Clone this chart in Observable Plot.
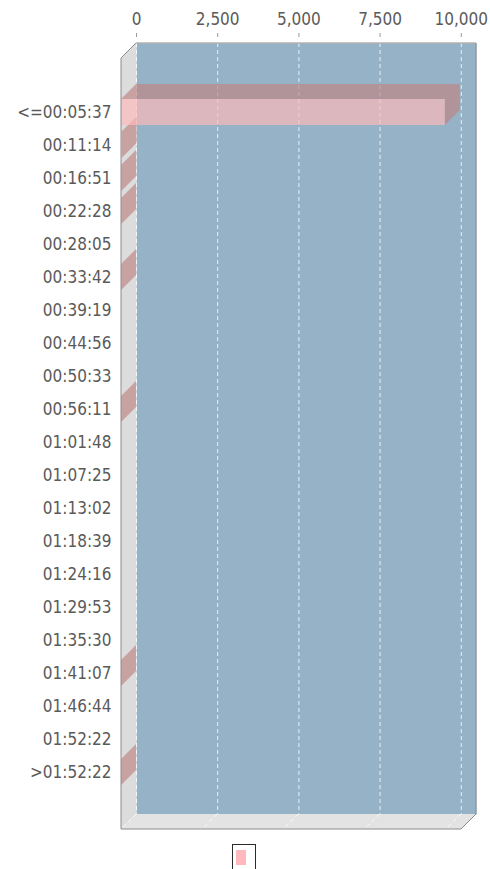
<!DOCTYPE html>
<html>
<head>
<meta charset="utf-8">
<script src="https://cdn.jsdelivr.net/npm/d3@7"></script>
<script src="https://cdn.jsdelivr.net/npm/@observablehq/plot@0.6"></script>
<style>
  body { margin: 0; background: #ffffff; }
  #chart { width: 490px; }
  #chart svg { display: block; }
  .legend-row { position: relative; width: 490px; height: 29px; }
  .legend {
    position: absolute; left: 232px; top: 4px;
    width: 24px; height: 28px; box-sizing: border-box;
    border: 1.5px solid #2a2a2a; background: #ffffff;
  }
  .legend span {
    position: absolute; left: 3px; top: 5px;
    width: 10px; height: 15px; background: #ffb9bc;
  }
</style>
</head>
<body>
<div id="chart"></div>
<div class="legend-row"><div class="legend"><span></span></div></div>
<script>
// Duration buckets and the number of records falling in each
const categories = [
  "<=00:05:37", "00:11:14", "00:16:51", "00:22:28", "00:28:05", "00:33:42",
  "00:39:19", "00:44:56", "00:50:33", "00:56:11", "01:01:48", "01:07:25",
  "01:13:02", "01:18:39", "01:24:16", "01:29:53", "01:35:30", "01:41:07",
  "01:46:44", "01:52:22", ">01:52:22"
];
const counts = [9970, 18, 7, 3, 0, 2, 0, 0, 0, 1, 0, 0, 0, 0, 0, 0, 0, 1, 0, 0, 2];
const xTicks = [0, 2500, 5000, 7500, 10000];

const rows = categories.map((category, i) => ({category, count: counts[i]}));
const shown = rows.filter((d) => d.count > 0);

const D = 15;                      // depth of the 3D extrusion, px
const xMax = d3.max(counts) * 1.05; // value axis upper margin
const wallColor = "#dcdcdc";
const floorColor = "#e3e3e3";
const backColor = "#96b2c6";
const barColor = "#ffb9b9";
const barShade = "#be8585";
const barAlpha = 0.68;

// Left wall and floor of the 3D box, built from the frame dimensions
function walls(index, scales, values, dim) {
  const L = dim.marginLeft, R = dim.width - dim.marginRight;
  const T = dim.marginTop, B = dim.height - dim.marginBottom;
  const g = d3.create("svg:g");
  g.append("path")
    .attr("d", `M${L - D},${T + D}L${L},${T}L${L},${B}L${L - D},${B + D}Z`)
    .attr("fill", wallColor);
  g.append("path")
    .attr("d", `M${L - D},${B + D}L${L},${B}L${R},${B}L${R - D},${B + D}Z`)
    .attr("fill", floorColor);
  return g.node();
}

// Grid lines continued diagonally across the floor
function floorGrid(index, scales, values, dim) {
  const B = dim.height - dim.marginBottom;
  const g = d3.create("svg:g")
    .attr("stroke", "#ffffff").attr("stroke-opacity", 0.8)
    .attr("stroke-dasharray", "4,3");
  for (const t of xTicks) {
    const x = scales.x(t);
    g.append("line").attr("x1", x).attr("y1", B).attr("x2", x - D).attr("y2", B + D);
  }
  return g.node();
}

// Top and end faces of each bar (front faces are drawn by barX below)
function barSides(index, scales, values, dim) {
  const bw = scales.y.bandwidth();
  const g = d3.create("svg:g").attr("fill", barShade).attr("fill-opacity", barAlpha);
  for (const d of shown) {
    const x0 = scales.x(0), x1 = scales.x(d.count);
    const yt = scales.y(d.category), yb = yt + bw;
    g.append("path").attr("d",
      `M${x0 - D},${yt + D}L${x0},${yt}L${x1},${yt}L${x1},${yb}L${x1 - D},${yb + D}L${x1 - D},${yt + D}Z`);
  }
  return g.node();
}

// Silhouette of the 3D plot box
function outline(index, scales, values, dim) {
  const L = dim.marginLeft, R = dim.width - dim.marginRight;
  const T = dim.marginTop, B = dim.height - dim.marginBottom;
  return d3.create("svg:path")
    .attr("d", `M${L - D},${T + D}L${L},${T}L${R},${T}L${R},${B}L${R - D},${B + D}L${L - D},${B + D}Z`)
    .attr("fill", "none").attr("stroke", "#8c8c8c").attr("stroke-width", 1)
    .node();
}

const chart = Plot.plot({
  width: 490,
  height: 840,
  marginLeft: 136,
  marginRight: 14,
  marginTop: 43,
  marginBottom: 26,
  style: {
    fontFamily: "'DejaVu Sans Condensed', 'Liberation Sans Narrow', 'DejaVu Sans', sans-serif",
    fontSize: "17px",
    color: "#5a5a5a",
    background: "#ffffff"
  },
  x: {domain: [0, xMax], axis: null},
  y: {domain: categories, range: [76, 779], padding: 0.2, axis: null},
  marks: [
    Plot.frame({fill: backColor, stroke: null}),
    walls,
    Plot.ruleX(xTicks, {stroke: "#ffffff", strokeOpacity: 0.8, strokeDasharray: "4,3"}),
    floorGrid,
    barSides,
    Plot.barX(shown, {x: "count", y: "category", fill: barColor, fillOpacity: barAlpha, dx: -D, dy: D}),
    outline,
    Plot.axisX(xTicks, {
      anchor: "top", tickSize: 4, tickPadding: 8, dy: -7, label: null,
      tickFormat: d3.format(","), stroke: "#9a9a9a"
    }),
    Plot.axisY({anchor: "left", tickSize: 0, tickPadding: 10, dx: -D, dy: D, label: null})
  ]
});

document.getElementById("chart").appendChild(chart);
</script>
</body>
</html>
